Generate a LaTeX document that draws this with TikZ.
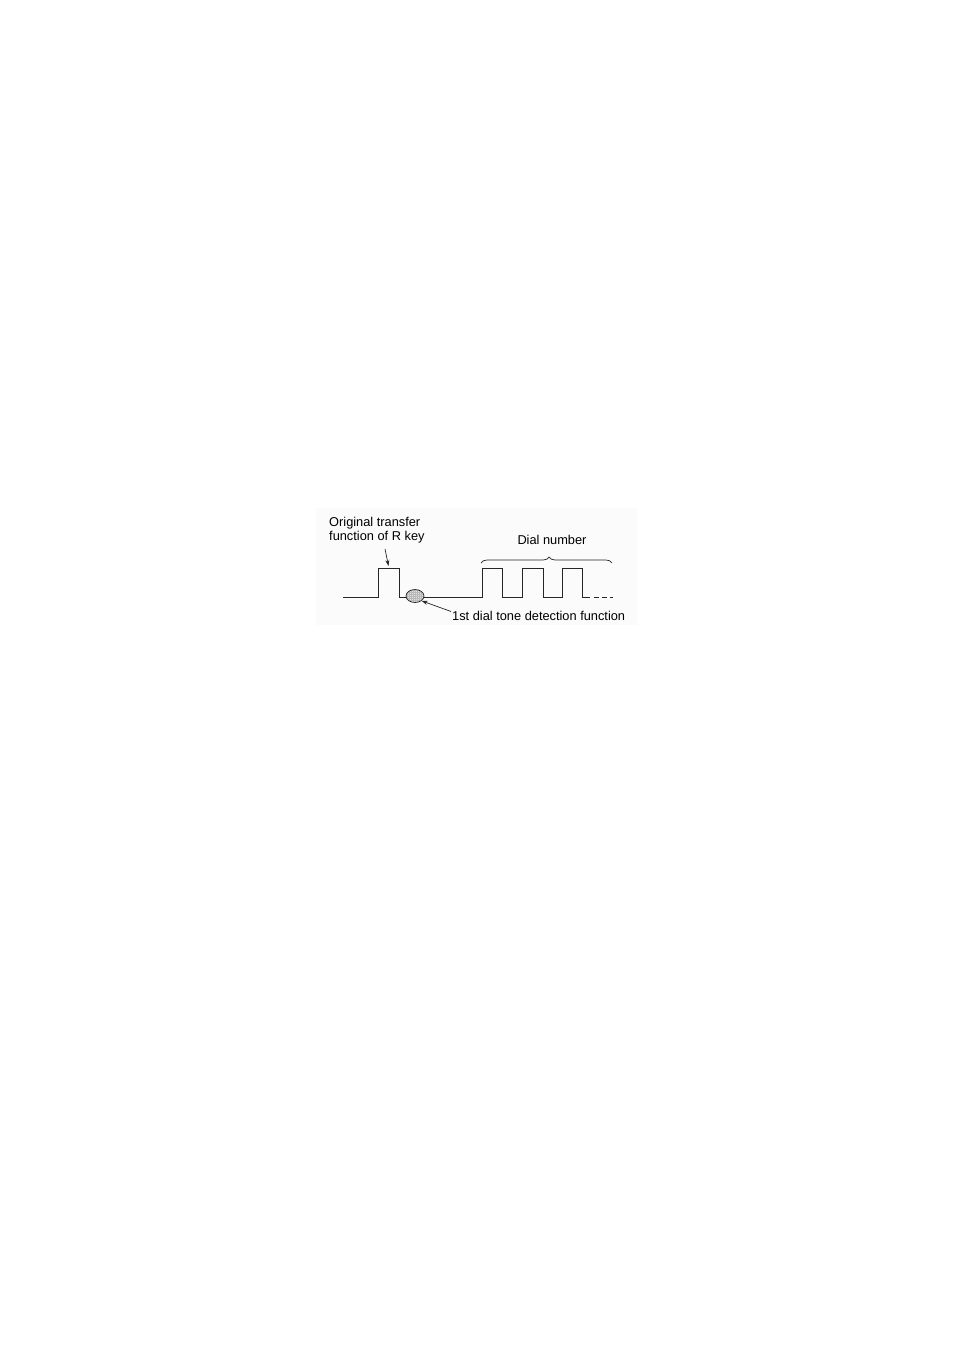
\documentclass[tikz,border=0pt]{standalone}
\usepackage{fontspec}
\setmainfont{Liberation Sans}
\usetikzlibrary{shapes.geometric,arrows.meta,decorations.pathreplacing}
\begin{document}
\begin{tikzpicture}[x=1pt,y=-1pt,
  sig/.style={line width=0.8pt,draw=black!85},
  lbl/.style={font=\fontsize{12.8}{14.5}\selectfont,inner sep=0pt,text=black},
  pointer/.style={line width=0.7pt,draw=black!85,-{Stealth[length=6pt,width=4pt]}}]
\useasboundingbox (0,0) rectangle (954,1351);
\fill[black!1.5] (316,508) rectangle (637,625);
% signal
\draw[sig] (343,597) -- (378,597) -- (378,568) -- (399,568) -- (399,597) -- (407,597);
\draw[sig] (423,597) -- (482,597) -- (482,568) -- (502,568) -- (502,597) -- (522,597) -- (522,568) -- (543,568) -- (543,597) -- (562,597) -- (562,568) -- (582,568) -- (582,597) -- (590,597);
\draw[sig] (594,597) -- (598.5,597) (602,597) -- (606.5,597) (610,597) -- (613,597);
% detection ellipse
\node[ellipse,draw=black!85,line width=0.7pt,fill=gray!25,minimum width=18pt,minimum height=13pt,inner sep=0pt,
  path picture={\draw[gray!55,line width=0.25pt] (path picture bounding box.south west) grid[step=2pt] (path picture bounding box.north east);}]
  (det) at (415,596) {};
% labels
\node[lbl,anchor=west,align=left] (orig) at (329,530) {Original transfer\\function of R key};
\node[lbl] (dial) at (552,540) {Dial number};
\node[lbl,anchor=west] (dtd) at (452,616) {1st dial tone detection function};
\coordinate (rtop) at (388.5,566);
\coordinate (otail) at (385,549);
\draw[pointer] (otail) -- (rtop);
\coordinate (dtail) at (451,611.5);
\draw[pointer] (dtail) -- (det.south east);
% brace
\coordinate (bl) at (481,563);
\coordinate (br) at (612,563);
\draw[line width=0.7pt,draw=black!85,decorate,decoration={brace,amplitude=6pt,aspect=0.52}] (bl) -- (br);
\end{tikzpicture}
\end{document}
